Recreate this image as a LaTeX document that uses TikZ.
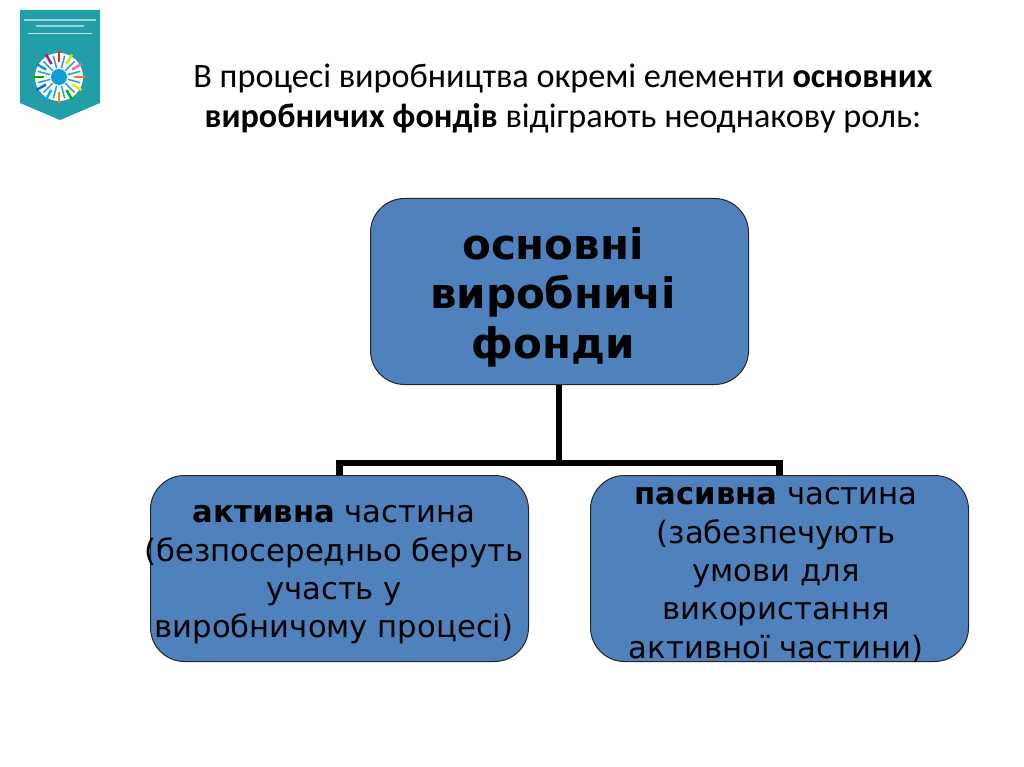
\documentclass[tikz,border=0pt]{standalone}
\usepackage{fontspec}
\setmainfont{Carlito}
\newfontfamily\boxfont{DejaVu Sans}
\definecolor{boxblue}{RGB}{79,129,189}
\definecolor{shieldteal}{RGB}{34,158,168}
\tikzset{
 x=1pt,y=-1pt,
 fund/.style={draw=black!85,line width=1pt,fill=boxblue,rounded corners=34pt,minimum width=378pt,anchor=north west},
 boxtext/.style={font=\boxfont\fontsize{30.7}{38.3}\selectfont,align=center,text=black,inner sep=0pt},
 toptext/.style={font=\boxfont\bfseries\fontsize{42}{49.5}\selectfont,align=center,text=black,inner sep=0pt},
 titletext/.style={font=\fontsize{34.2}{40}\selectfont,align=center,text=black,inner sep=0pt},
 link/.style={draw=black,line width=6.5pt},
 ray/.style={line width=2.4pt}
}
\begin{document}
\begin{tikzpicture}
\useasboundingbox (0,0) rectangle (1024,767);
\fill[white] (0,0) rectangle (1024,767);
% shield
\fill[shieldteal] (20,10) -- (100,10) -- (100,103) -- (60,120) -- (20,103) -- cycle;
\draw[white!70!shieldteal,line width=.4pt] (28,33.5) -- (92,33.5);
\fill[white!55!shieldteal] (24,19) rectangle (96,21);
\fill[white!55!shieldteal] (36,25.5) rectangle (84,27.5);
\fill[white] (59,77) circle (24);
\foreach \a/\c in {0/orange,30/yellow!80!orange,60/green!70!black,90/orange,120/cyan,150/blue!60!cyan,180/green!70!black,210/cyan!70!blue,240/magenta!60!blue,270/red!70!orange,300/yellow!80!green,330/magenta!60}
  \draw[ray,\c] (59,77) ++(\a:15) -- ++(\a:11);
\foreach \a in {15,45,...,345}
  \draw[cyan!60!shieldteal,line width=1.6pt] (59,77) ++(\a:9) -- ++(\a:13);
\fill[shieldteal!60!cyan!80!blue] (59,77) circle (8);
% title
\node[titletext] (title) at (563,99) {В процесі виробництва окремі елементи \textbf{основних}\\\textbf{виробничих фондів} відіграють неоднакову роль:};
% boxes
\node[fund,minimum height=186pt] (top) at (370,198) {};
\node[fund,minimum height=186pt] (left) at (150,475) {};
\node[fund,minimum height=186pt] (right) at (590,475) {};
\node[toptext] (toplabel) at (553,297) {основні\\виробничі\\фонди};
\node[boxtext] (leftlabel) at (334,575) {\textbf{активна} частина\\(безпосередньо беруть\\участь у\\виробничому процесі)};
\node[boxtext] (rightlabel) at (776,575) {\textbf{пасивна} частина\\(забезпечують\\умови для\\використання\\активної частини)};
% connectors
\coordinate (bus) at (559,463);
\draw[link] (top.south -| bus) -- (bus);
\draw[link] (left.north) -- (left.north |- bus) -- (right.north |- bus) -- (right.north);
\end{tikzpicture}
\end{document}
